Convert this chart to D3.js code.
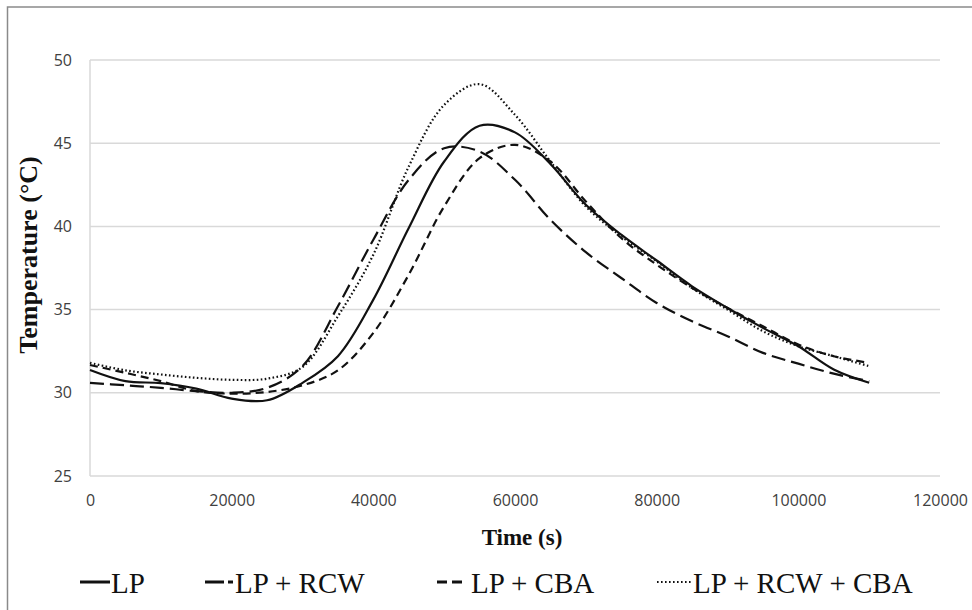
<!DOCTYPE html>
<html>
<head>
<meta charset="utf-8">
<script src="https://cdn.jsdelivr.net/npm/d3@7"></script>
<style>
  body { margin: 0; background: #fff; }
</style>
</head>
<body>
<div class="ChartSection"></div>
<script>
// time samples (s)
const times = [0, 5000, 10000, 15000, 20000, 25000, 30000, 35000, 40000, 45000, 50000,
  55000, 60000, 65000, 70000, 75000, 80000, 85000, 90000, 95000, 100000, 105000, 110000];

// temperatures (°C)
const lp = [31.37, 30.7, 30.58, 30.25, 29.65, 29.55, 30.6, 32.2, 35.6, 39.9, 43.9,
  46.05, 45.65, 43.75, 41.3, 39.5, 37.95, 36.4, 35.1, 33.9, 32.8, 31.4, 30.6];
const lpRcw = [30.6, 30.45, 30.3, 30.1, 30.0, 30.3, 31.6, 35.2, 39.2, 42.8, 44.7,
  44.5, 42.8, 40.4, 38.45, 36.9, 35.4, 34.3, 33.4, 32.4, 31.75, 31.15, 30.7];
const lpCba = [31.67, 31.2, 30.7, 30.1, 29.95, 30.05, 30.45, 31.35, 33.6, 37.1, 41.2,
  44.1, 44.9, 43.9, 41.5, 39.3, 37.7, 36.3, 35.1, 34.0, 32.9, 32.2, 31.8];
const lpRcwCba = [31.8, 31.35, 31.1, 30.9, 30.78, 30.85, 31.55, 34.6, 38.3, 43.6, 47.3,
  48.55, 46.7, 43.9, 41.2, 39.4, 37.9, 36.3, 35.0, 33.7, 32.8, 32.2, 31.6];

const xTicks = [0, 20000, 40000, 60000, 80000, 100000, 120000];
const yTicks = [25, 30, 35, 40, 45, 50];

const seriesNames = ["LP", "LP + RCW", "LP + CBA", "LP + RCW + CBA"];
const seriesValues = [lp, lpRcw, lpCba, lpRcwCba];

// line styles for each series
const dashes = [null, "14,6", "8,5", "1.6,2.4"];
const widths = [2.2, 2.2, 2.2, 2.2];

const svgWidth = 972;
const svgHeight = 610;

const svg = d3.select(".ChartSection")
  .append("svg")
  .attr("width", svgWidth)
  .attr("height", svgHeight);

svg.append("rect")
  .attr("width", svgWidth)
  .attr("height", svgHeight)
  .attr("fill", "#fff");

// outer chart border (cut by the picture edge on right and bottom)
svg.append("rect")
  .attr("x", 7.5)
  .attr("y", 7)
  .attr("width", 1000)
  .attr("height", 700)
  .attr("fill", "none")
  .attr("stroke", "#8a8a8a")
  .attr("stroke-width", 1.5);

const xScale = d3.scaleLinear()
  .domain([0, 120000])
  .range([90, 940]);

const yScale = d3.scaleLinear()
  .domain([25, 50])
  .range([476, 60]);

// horizontal gridlines
svg.append("g")
  .selectAll("line")
  .data(yTicks)
  .enter().append("line")
  .attr("x1", xScale(0))
  .attr("x2", xScale(120000))
  .attr("y1", d => yScale(d))
  .attr("y2", d => yScale(d))
  .attr("stroke", "#d9d9d9")
  .attr("stroke-width", 1.5);

// vertical axis line
svg.append("line")
  .attr("x1", xScale(0))
  .attr("x2", xScale(0))
  .attr("y1", yScale(50))
  .attr("y2", yScale(25))
  .attr("stroke", "#d9d9d9")
  .attr("stroke-width", 1.5);

// axes, labels only
const xAxis = d3.axisBottom(xScale)
  .tickValues(xTicks)
  .tickSize(0)
  .tickPadding(19)
  .tickFormat(d3.format("d"));

const yAxis = d3.axisLeft(yScale)
  .tickValues(yTicks)
  .tickSize(0)
  .tickPadding(18)
  .tickFormat(d3.format("d"));

svg.append("g")
  .attr("class", "x-axis")
  .attr("transform", `translate(0, ${yScale(25)})`)
  .call(xAxis)
  .call(g => g.select(".domain").remove())
  .selectAll("text")
  .attr("font-family", "'Open Sans', sans-serif")
  .attr("font-size", "16px")
  .attr("fill", "#404040");

svg.append("g")
  .attr("class", "y-axis")
  .attr("transform", `translate(${xScale(0)}, 0)`)
  .call(yAxis)
  .call(g => g.select(".domain").remove())
  .selectAll("text")
  .attr("font-family", "'Open Sans', sans-serif")
  .attr("font-size", "16px")
  .attr("fill", "#404040");

// curves
const line = d3.line()
  .x((d, i) => xScale(times[i]))
  .y(d => yScale(d))
  .curve(d3.curveCatmullRom.alpha(0.5));

svg.append("g")
  .selectAll("path")
  .data(seriesValues)
  .enter().append("path")
  .attr("d", d => line(d))
  .attr("fill", "none")
  .attr("stroke", "#111")
  .attr("stroke-width", (d, i) => widths[i])
  .attr("stroke-dasharray", (d, i) => dashes[i]);

// axis titles
svg.append("text")
  .attr("x", 522)
  .attr("y", 545)
  .attr("text-anchor", "middle")
  .attr("font-family", "'Liberation Serif', 'Times New Roman', serif")
  .attr("font-size", "23px")
  .attr("font-weight", "bold")
  .attr("fill", "#111")
  .text("Time (s)");

svg.append("text")
  .attr("transform", "rotate(-90)")
  .attr("x", -255)
  .attr("y", 37)
  .attr("text-anchor", "middle")
  .attr("font-family", "'Liberation Serif', 'Times New Roman', serif")
  .attr("font-size", "26px")
  .attr("font-weight", "bold")
  .attr("fill", "#111")
  .text("Temperature (°C)");

// legend
const legendY = 582;
const legendItems = [
  { x1: 80, x2: 110, dash: null, tx: 111 },
  { x1: 205, x2: 233, dash: "19,4", tx: 235 },
  { x1: 437, x2: 462, dash: "10,5", tx: 471 },
  { x1: 657, x2: 691, dash: "1.6,2.4", tx: 693 }
];

const legend = svg.append("g").attr("class", "legend");

legend.selectAll("line")
  .data(legendItems)
  .enter().append("line")
  .attr("x1", d => d.x1)
  .attr("x2", d => d.x2)
  .attr("y1", legendY)
  .attr("y2", legendY)
  .attr("stroke", "#111")
  .attr("stroke-width", (d, i) => i === 3 ? 2 : 3)
  .attr("stroke-dasharray", d => d.dash);

legend.selectAll("text")
  .data(legendItems)
  .enter().append("text")
  .attr("x", d => d.tx)
  .attr("y", legendY + 11)
  .attr("font-family", "'Liberation Serif', 'Times New Roman', serif")
  .attr("font-size", "29px")
  .attr("fill", "#111")
  .text((d, i) => seriesNames[i]);
</script>
</body>
</html>
